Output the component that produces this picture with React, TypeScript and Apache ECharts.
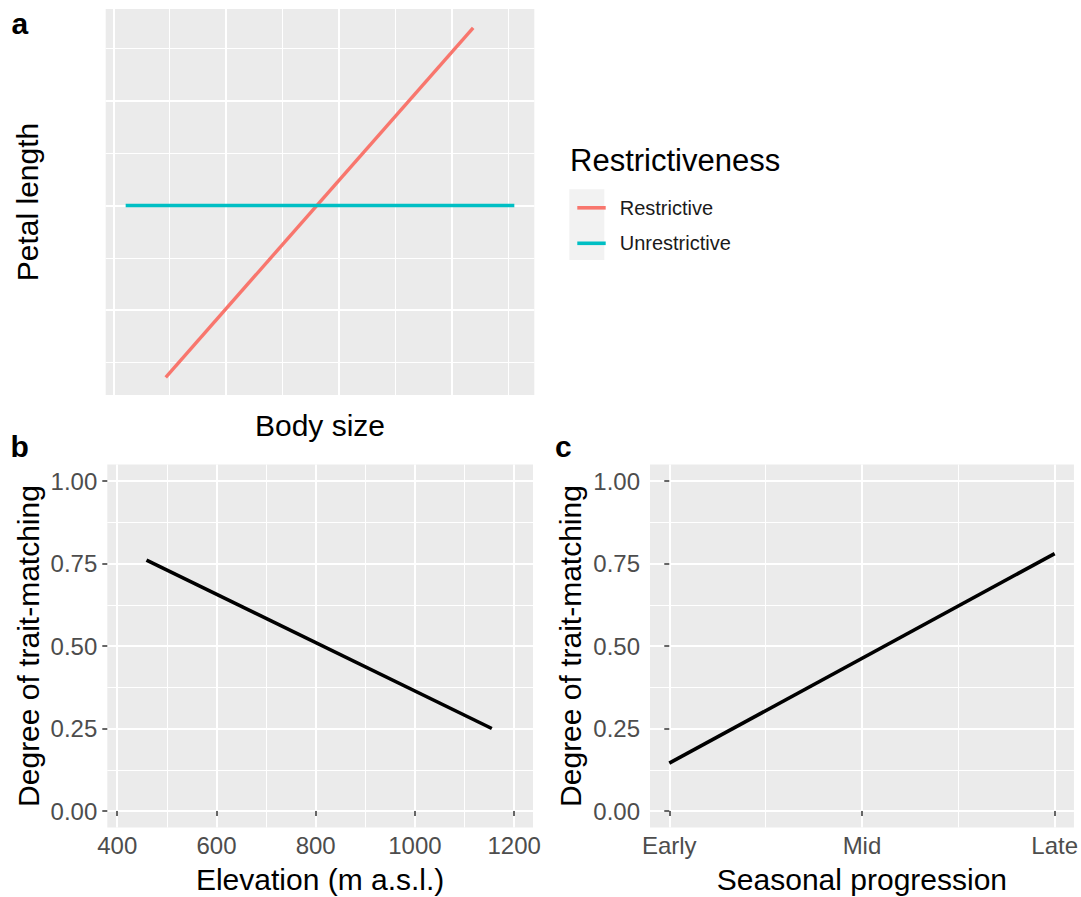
import React, { useEffect, useRef } from "react";
import * as echarts from "echarts";

const FONT = "'Liberation Sans', Arial, Helvetica, sans-serif";

// ---- Panel a: conceptual trait-matching ----
const legendNames = ["Restrictive", "Unrestrictive"];
const restrictiveBody = [1.465, 4.19];
const restrictivePetal = [0.356, 3.7];
const unrestrictiveBody = [1.11, 4.555];
const unrestrictivePetal = [2.0, 2.0];
const bodyMajor = [1, 2, 3, 4];
const bodyMinor = [1.5, 2.5, 3.5, 4.5];
const petalMajor = [1, 2, 3];
const petalMinor = [0.5, 1.5, 2.5, 3.5];

// ---- Panel b: elevation ----
const elevation = [459, 1155];
const traitByElevation = [0.76, 0.25];
const elevationTicks = [400, 600, 800, 1000, 1200];
const elevationMinor = [500, 700, 900, 1100];

// ---- Panel c: season ----
const seasonLabels = ["Early", "Mid", "Late"];
const seasonPositions = [0, 0.5, 1];
const seasonMinor = [0.25, 0.75];
const seasonX = [0, 1];
const traitBySeason = [0.145, 0.78];

// ---- shared y ticks for b & c ----
const traitTicks = [0, 0.25, 0.5, 0.75, 1];
const traitMinor = [0.125, 0.375, 0.625, 0.875];

const zip = (xs: number[], ys: number[]) => xs.map((x, i) => [x, ys[i]]);

function majorAxis(o: any) {
  return {
    type: "value",
    gridIndex: o.grid,
    min: o.min,
    max: o.max,
    axisLine: { show: false },
    axisTick: {
      show: !!o.ticks,
      customValues: o.values,
      length: 5,
      lineStyle: { color: "#333333", width: 1.5 },
    },
    axisLabel: {
      show: !!o.labels,
      customValues: o.values,
      formatter: o.formatter,
      margin: o.margin ?? 8,
      color: "#4D4D4D",
      fontSize: 24,
      fontFamily: FONT,
    },
    splitLine: { show: true, lineStyle: { color: "#FFFFFF", width: 2 } },
    name: o.name,
    nameLocation: "middle",
    nameGap: o.nameGap,
    nameTextStyle: { color: "#000000", fontSize: 30, fontFamily: FONT },
  };
}

function minorAxis(o: any) {
  return {
    type: "value",
    gridIndex: o.grid,
    min: o.min,
    max: o.max,
    position: o.position,
    axisLine: { show: false },
    axisTick: { show: false, customValues: o.values },
    axisLabel: { show: false, customValues: o.values },
    splitLine: { show: true, lineStyle: { color: "#FFFFFF", width: 1 } },
  };
}

export default function App() {
  const ref = useRef<HTMLDivElement>(null);
  useEffect(() => {
    if (!ref.current) return;
    const chart = echarts.init(ref.current, undefined, { renderer: "svg" });
    const seasonFmt = (v: number) => {
      const i = seasonPositions.findIndex((p) => Math.abs(p - v) < 1e-9);
      return i >= 0 ? seasonLabels[i] : "";
    };
    const option: any = {
      animation: false,
      textStyle: { fontFamily: FONT },
      grid: [
        { left: 105.7, top: 9, width: 428.6, height: 386, show: true, backgroundColor: "#EBEBEB", borderWidth: 0 },
        { left: 107.3, top: 464.5, width: 425.7, height: 363, show: true, backgroundColor: "#EBEBEB", borderWidth: 0 },
        { left: 650, top: 464.5, width: 425, height: 363, show: true, backgroundColor: "#EBEBEB", borderWidth: 0 },
      ],
      xAxis: [
        majorAxis({ grid: 0, min: 0.933, max: 4.732, values: bodyMajor, name: "Body size", nameGap: 15 }),
        minorAxis({ grid: 0, min: 0.933, max: 4.732, values: bodyMinor, position: "bottom" }),
        majorAxis({ grid: 1, min: 380, max: 1238, values: elevationTicks, ticks: true, labels: true, margin: 6, formatter: (v: number) => String(v), name: "Elevation (m a.s.l.)", nameGap: 37 }),
        minorAxis({ grid: 1, min: 380, max: 1238, values: elevationMinor, position: "bottom" }),
        majorAxis({ grid: 2, min: -0.05, max: 1.05, values: seasonPositions, ticks: true, labels: true, margin: 6, formatter: seasonFmt, name: "Seasonal progression", nameGap: 37 }),
        minorAxis({ grid: 2, min: -0.05, max: 1.05, values: seasonMinor, position: "bottom" }),
      ],
      yAxis: [
        majorAxis({ grid: 0, min: 0.187, max: 3.88, values: petalMajor, name: "Petal length", nameGap: 63 }),
        minorAxis({ grid: 0, min: 0.187, max: 3.88, values: petalMinor, position: "left" }),
        majorAxis({ grid: 1, min: -0.05, max: 1.05, values: traitTicks, ticks: true, labels: true, margin: 10, formatter: (v: number) => v.toFixed(2), name: "Degree of trait-matching", nameGap: 64 }),
        minorAxis({ grid: 1, min: -0.05, max: 1.05, values: traitMinor, position: "left" }),
        majorAxis({ grid: 2, min: -0.05, max: 1.05, values: traitTicks, ticks: true, labels: true, margin: 10, formatter: (v: number) => v.toFixed(2), name: "Degree of trait-matching", nameGap: 65 }),
        minorAxis({ grid: 2, min: -0.05, max: 1.05, values: traitMinor, position: "left" }),
      ],
      legend: {
        data: legendNames,
        orient: "vertical",
        left: 572.3,
        top: 192.8,
        icon: "rect",
        itemWidth: 28.4,
        itemHeight: 3.6,
        itemGap: 15.5,
        selectedMode: false,
        textStyle: { fontSize: 20, color: "#1A1A1A", fontFamily: FONT, padding: [0, 0, 0, 9] },
      },
      series: [
        {
          name: legendNames[0],
          type: "line",
          xAxisIndex: 0,
          yAxisIndex: 0,
          data: zip(restrictiveBody, restrictivePetal),
          symbol: "none",
          color: "#F8766D",
          lineStyle: { color: "#F8766D", width: 3.4 },
          z: 3,
        },
        {
          name: legendNames[1],
          type: "line",
          xAxisIndex: 0,
          yAxisIndex: 0,
          data: zip(unrestrictiveBody, unrestrictivePetal),
          symbol: "none",
          color: "#00BFC4",
          lineStyle: { color: "#00BFC4", width: 3.4 },
          z: 3,
        },
        {
          type: "line",
          xAxisIndex: 2,
          yAxisIndex: 2,
          data: zip(elevation, traitByElevation),
          symbol: "none",
          lineStyle: { color: "#000000", width: 3.6 },
          z: 3,
        },
        {
          type: "line",
          xAxisIndex: 4,
          yAxisIndex: 4,
          data: zip(seasonX, traitBySeason),
          symbol: "none",
          lineStyle: { color: "#000000", width: 3.6 },
          z: 3,
        },
      ],
      graphic: [
        { type: "rect", z: 0, shape: { x: 569.3, y: 189.3, width: 35, height: 70.7 }, style: { fill: "#F2F2F2" } },
        { type: "text", x: 570, y: 160, style: { text: "Restrictiveness", font: `31px ${FONT}`, fill: "#000000", textVerticalAlign: "middle" } },
        { type: "text", x: 11.5, y: 23, style: { text: "a", font: `bold 30px ${FONT}`, fill: "#000000", textVerticalAlign: "middle" } },
        { type: "text", x: 10.5, y: 446.6, style: { text: "b", font: `bold 30px ${FONT}`, fill: "#000000", textVerticalAlign: "middle" } },
        { type: "text", x: 555, y: 446.6, style: { text: "c", font: `bold 30px ${FONT}`, fill: "#000000", textVerticalAlign: "middle" } },
      ],
    };
    chart.setOption(option);
    return () => chart.dispose();
  }, []);
  return (
    <div
      ref={ref}
      style={{ position: "fixed", left: 0, top: 0, width: 1081, height: 897, background: "#FFFFFF" }}
    />
  );
}
